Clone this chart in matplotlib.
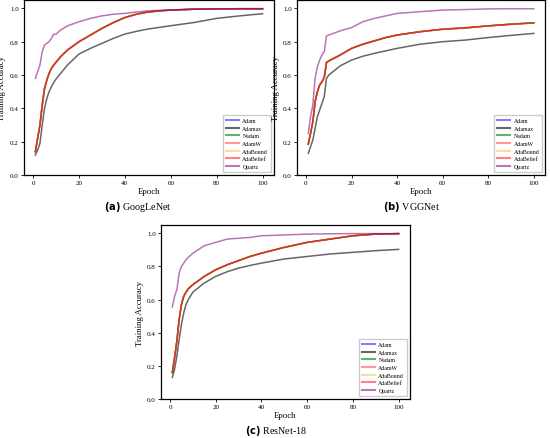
import matplotlib
matplotlib.use('Agg')
import matplotlib.pyplot as plt

plt.rcParams['font.family'] = ['Liberation Serif', 'DejaVu Serif']

optimizers = ['Adam', 'Adamax', 'Nadam', 'AdamW', 'AdaBound', 'AdaBelief', 'Quartz']
colors = ['blue', 'black', 'green', 'red', 'orange', 'red', 'purple']
alphas = [0.5, 0.6, 0.6, 0.4, 0.4, 0.5, 0.55]

ep_a = [1, 2, 3, 4, 5, 6, 7, 8, 9, 10, 12, 15, 20, 25, 30, 35, 40, 45, 50, 55, 60, 70, 80, 90, 100]
googlenet_adam = [0.14, 0.22, 0.30, 0.42, 0.52, 0.57, 0.61, 0.64, 0.66, 0.677, 0.71, 0.75, 0.80, 0.84,
                  0.88, 0.915, 0.945, 0.965, 0.978, 0.985, 0.99, 0.995, 0.997, 0.998, 0.998]
googlenet_adamax = [0.12, 0.15, 0.19, 0.30, 0.40, 0.46, 0.50, 0.53, 0.555, 0.576, 0.61, 0.66, 0.726, 0.76,
                    0.79, 0.82, 0.846, 0.862, 0.876, 0.886, 0.896, 0.915, 0.94, 0.955, 0.968]
googlenet_quartz = [0.58, 0.62, 0.66, 0.74, 0.78, 0.79, 0.80, 0.82, 0.845, 0.845, 0.87, 0.895, 0.92, 0.94,
                    0.955, 0.965, 0.97, 0.978, 0.985, 0.988, 0.99, 0.995, 0.997, 0.998, 0.998]

ep_b = [1, 2, 3, 4, 5, 6, 7, 8, 9, 10, 15, 20, 25, 30, 35, 40, 50, 60, 70, 80, 90, 100]
vgg_adam = [0.185, 0.25, 0.32, 0.44, 0.50, 0.54, 0.56, 0.585, 0.675, 0.685, 0.72, 0.76, 0.785, 0.805,
            0.825, 0.84, 0.86, 0.875, 0.883, 0.895, 0.905, 0.913]
vgg_adamax = [0.13, 0.17, 0.21, 0.28, 0.35, 0.39, 0.43, 0.47, 0.58, 0.60, 0.655, 0.69, 0.713, 0.73,
              0.745, 0.76, 0.785, 0.80, 0.81, 0.825, 0.838, 0.85]
vgg_quartz = [0.25, 0.35, 0.42, 0.58, 0.65, 0.69, 0.72, 0.74, 0.835, 0.84, 0.865, 0.885, 0.92, 0.94,
              0.955, 0.97, 0.98, 0.99, 0.993, 0.997, 0.998, 0.998]

ep_c = [1, 2, 3, 4, 5, 6, 7, 8, 10, 15, 20, 25, 30, 35, 40, 50, 60, 70, 80, 90, 100]
resnet_adam = [0.16, 0.25, 0.35, 0.48, 0.57, 0.62, 0.645, 0.665, 0.69, 0.74, 0.78, 0.81, 0.835, 0.86,
               0.88, 0.915, 0.945, 0.965, 0.985, 0.995, 0.998]
resnet_adamax = [0.13, 0.18, 0.26, 0.36, 0.45, 0.52, 0.57, 0.60, 0.645, 0.70, 0.74, 0.768, 0.79, 0.806,
                 0.82, 0.845, 0.86, 0.875, 0.885, 0.895, 0.903]
resnet_quartz = [0.555, 0.62, 0.66, 0.76, 0.80, 0.82, 0.84, 0.855, 0.88, 0.925, 0.945, 0.965, 0.97, 0.975,
                 0.985, 0.99, 0.995, 0.997, 0.998, 0.998, 0.998]

panels = [
    ('GoogLeNet', '(a)', ep_a, googlenet_adam, googlenet_adamax, googlenet_quartz),
    ('VGGNet', '(b)', ep_b, vgg_adam, vgg_adamax, vgg_quartz),
    ('ResNet-18', '(c)', ep_c, resnet_adam, resnet_adamax, resnet_quartz),
]

fig = plt.figure(figsize=(5.5, 4.39), dpi=100)
rects = [[0.0436, 0.599, 0.4545, 0.3986],
         [0.54, 0.599, 0.451, 0.3986],
         [0.2927, 0.0888, 0.4527, 0.3964]]
caption_pos = [(0.251, 0.528), (0.749, 0.528), (0.502, 0.018)]

for (name, tag, ep, adam, adamax, quartz), rect, cpos in zip(panels, rects, caption_pos):
    ax = fig.add_axes(rect)
    # Adam, Nadam, AdamW, AdaBound and AdaBelief overlap almost exactly
    series = [adam, adamax, adam, adam, adam, adam, quartz]
    for label, ys, c, a in zip(optimizers, series, colors, alphas):
        ax.plot(ep, ys, color=c, alpha=a, linewidth=1.1, label=label)
    ax.set_ylim(0, 1.05)
    ax.set_yticks([0.0, 0.2, 0.4, 0.6, 0.8, 1.0])
    ax.set_xticks([0, 20, 40, 60, 80, 100])
    ax.tick_params(labelsize=5, length=2.5, width=0.6, pad=1.2)
    ax.set_xlabel('Epoch', fontsize=6.3, labelpad=1)
    ax.set_ylabel('Training Accuracy', fontsize=6.3)
    ax.yaxis.set_label_coords(-0.07, 0.5)
    for s in ax.spines.values():
        s.set_linewidth(0.9)
    leg = ax.legend(loc='lower right', fontsize=4.2, handlelength=2.2, labelspacing=0.45,
                    borderpad=0.5, handletextpad=0.6, framealpha=1, fancybox=False,
                    edgecolor='#cccccc')
    for h in leg.get_lines():
        h.set_linewidth(1.5)
    fig.text(cpos[0], cpos[1], r'$\bf{' + tag + '}$ ' + name, ha='center', va='center', fontsize=7.2)

fig.savefig('out.png', dpi=100)
